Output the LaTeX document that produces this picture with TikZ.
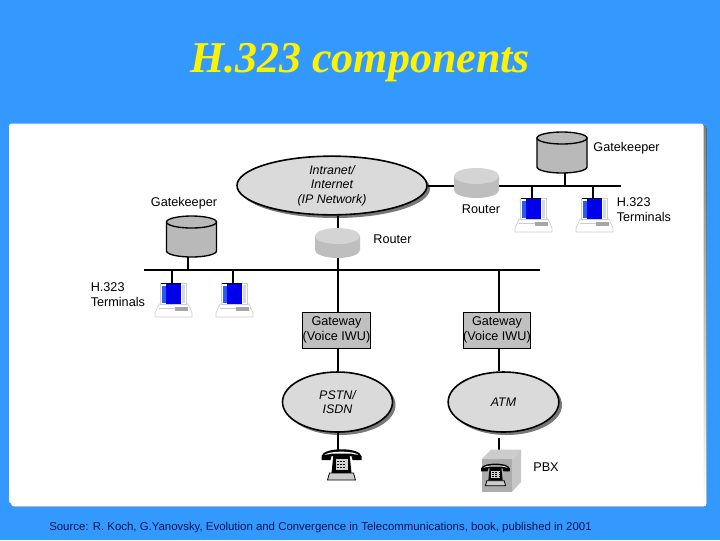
\documentclass[tikz,border=0pt]{standalone}
\usepackage{fontspec}
\setmainfont{Liberation Sans}
\newfontfamily\titlefont{Liberation Serif}
\usetikzlibrary{shapes.geometric}
\definecolor{bgblue}{RGB}{51,153,255}
\definecolor{shade}{RGB}{25,50,85}
\definecolor{cylgray}{RGB}{185,185,185}
\definecolor{rttop}{RGB}{212,212,212}
\definecolor{rtside}{RGB}{190,190,190}
\definecolor{ellgray}{RGB}{218,218,218}
\definecolor{ellshadow}{RGB}{120,120,120}
\definecolor{gwgray}{RGB}{192,192,192}
\definecolor{termblue}{RGB}{0,0,235}
\definecolor{termlight}{RGB}{40,90,250}
\definecolor{srcnavy}{RGB}{10,20,80}
\tikzset{
  wire/.style={line width=1.5pt,black},
  lbl/.style={font=\fontsize{9.5}{11}\selectfont,align=center,inner sep=0pt},
  lblleft/.style={font=\fontsize{9.5}{11}\selectfont,align=left,inner sep=0pt},
  cloudnet/.style={ellipse,draw=black,line width=1.2pt,fill=ellgray,inner sep=-3pt,font=\fontsize{9.3}{10.9}\selectfont\itshape,align=center},
  gwbox/.style={rectangle,draw=black,line width=0.7pt,fill=gwgray,minimum width=48.5pt,minimum height=27pt,inner sep=0pt,font=\fontsize{9.5}{11}\selectfont,align=center},
  port/.style={inner sep=0pt,minimum size=0pt},
}
\newcommand{\gkcyl}[4]{%
  \draw[line width=1pt,fill=cylgray] (#1-25,#2) -- (#1-25,#2+29) arc[start angle=180,end angle=0,x radius=25,y radius=6] -- (#1+25,#2) -- cycle;
  \draw[line width=1pt,fill=cylgray] (#1,#2) ellipse[x radius=25,y radius=6];
  \node[port] (#3) at (#1+#4,#2+35) {};
}
\newcommand{\rtcyl}[3]{%
  \fill[rtside] (#1-22.5,#2) -- (#1-22.5,#2+14) arc[start angle=180,end angle=0,x radius=22.5,y radius=8] -- (#1+22.5,#2) -- cycle;
  \fill[rttop] (#1,#2) ellipse[x radius=22.5,y radius=8];
  \node[port] (#3) at (#1,#2+22) {};
  \node[port] (#3t) at (#1,#2-8) {};
}
\newcommand{\term}[3]{%
  \draw[gray!40,fill=white,line width=0.5pt] (#1-17,#2+30) -- (#1-13,#2+21) -- (#1+16,#2+21) -- (#1+20,#2+30) -- (#1+20,#2+34) -- (#1-17,#2+34) -- cycle;
  \draw[gray!40,line width=0.5pt] (#1-13,#2+25) -- (#1+3,#2+25);
  \fill[gray!70] (#1+3,#2+24) rectangle (#1+16,#2+28);
  \draw[gray!40,fill=white,line width=0.5pt] (#1-12,#2) rectangle (#1+14,#2+21);
  \fill[termlight] (#1-10,#2+3) rectangle (#1-5,#2+20);
  \fill[gray!30] (#1+10,#2+2) rectangle (#1+13,#2+20);
  \fill[termblue] (#1-6,#2) rectangle (#1+9,#2+21);
  \draw[line width=0.6pt] (#1-11,#2) -- (#1+9,#2);
  \node[port] (#3) at (#1,#2) {};
}
\newcommand{\phonedraw}[3]{%
  \begin{scope}[shift={(#1,#2)},scale=#3]
    \fill[black] (-20,-5) .. controls (-18,-14) and (18,-14) .. (20,-5) -- (20,-1) -- (11,-1) -- (10,-5) -- (-10,-5) -- (-11,-1) -- (-20,-1) -- cycle;
    \fill[white] (-17,-6) .. controls (-13,-10.5) and (13,-10.5) .. (17,-6) -- (9,-7.5) -- (-9,-7.5) -- cycle;
    \fill[black] (-8,-7) -- (8,-7) -- (10,12) -- (-10,12) -- cycle;
    \fill[gray!40] (-12,12) -- (12,12) -- (14,19) -- (-14,19) -- cycle;
    \draw[black,line width=0.6pt] (-12,12) -- (12,12) -- (14,19) -- (-14,19) -- cycle;
    \fill[gray!35] (-6,-2) rectangle (6,9);
    \foreach \yy in {0,3,6}{\draw[black,line width=0.5pt,dash pattern=on 1.5pt off 1pt] (-5,\yy) -- (5,\yy);}
  \end{scope}
}
\begin{document}
\begin{tikzpicture}[x=0.75pt,y=-0.75pt]
\useasboundingbox (0,0) rectangle (720,540);
\fill[bgblue] (0,0) rectangle (720,540);
% panel
\fill[shade,rounded corners=2pt] (11,126) rectangle (706.5,506.5);
\fill[white,rounded corners=2pt] (9,123.5) rectangle (703.5,503.5);
% title
\node[inner sep=0pt,text=yellow,font=\titlefont\itshape\bfseries\fontsize{33}{36}\selectfont] (title) at (360,62.5) {H.323 components};

% nets
\fill[ellshadow] (335,188.5) ellipse[x radius=95,y radius=29.5];
\node[cloudnet,minimum width=142.5pt,minimum height=44pt] (inet) at (332,185.5) {Intranet/\\Internet\\(IP Network)};
\fill[ellshadow] (340.5,405) ellipse[x radius=55,y radius=30];
\node[cloudnet,minimum width=82.5pt,minimum height=45pt] (pstn) at (337.5,402) {PSTN/\\ISDN};
\fill[ellshadow] (506.5,405) ellipse[x radius=55.5,y radius=30];
\node[cloudnet,minimum width=83pt,minimum height=45pt] (atm) at (503.5,402) {ATM};

% gateways
\node[gwbox] (gw1) at (336.5,330) {Gateway\\(Voice IWU)};
\node[gwbox] (gw2) at (497,330) {Gateway\\(Voice IWU)};

% buses
\coordinate (ubusend) at (621,186);
\coordinate (lbusstart) at (144,270);
\coordinate (lbusend) at (540,270);
\draw[wire] (inet.east |- ubusend) -- (ubusend);
\draw[wire] (lbusstart) -- (lbusend);

% cylinders and routers
\gkcyl{191.5}{222}{gk1}{-3.5}
\gkcyl{562}{138}{gk2}{3}
\draw[wire] (gk1) -- (gk1 |- lbusend) ;
\draw[wire] (gk2) -- (gk2 |- ubusend);
\rtcyl{476.5}{176}{rone}
\rtcyl{337.5}{236}{rtwo}
\coordinate (gwdrop) at (499,270);
\draw[wire] (rtwot) -- (rtwot |- inet.south);
\draw[wire] (rtwo) -- (rtwo |- gw1.north);
\draw[wire] (gwdrop) -- (gwdrop |- gw2.north);
\draw[wire] (rtwo |- gw1.south) -- (rtwo |- pstn.north);
\draw[wire] (gwdrop |- gw2.south) -- (gwdrop |- atm.north);

% terminals
\term{172}{283}{t1}
\term{233}{283}{t2}
\term{532}{198}{t3}
\term{593}{198}{t4}
\draw[wire] (t1) -- (t1 |- lbusend);
\draw[wire] (t2) -- (t2 |- lbusend);
\draw[wire] (t3) -- (t3 |- ubusend);
\draw[wire] (t4) -- (t4 |- ubusend);

% phones
\coordinate (ph1) at (337.5,451);
\draw[wire] (pstn.south) -- (ph1);
\phonedraw{341.5}{461}{1}
\coordinate (pbxtop) at (499,450);
\draw[wire] (499,438) -- (pbxtop);
\fill[gray!40] (482,459) -- (491,449.5) -- (521,449.5) -- (512,459) -- cycle;
\fill[gray!45] (512,459) -- (521,449.5) -- (521,482) -- (512,492) -- cycle;
\fill[gray!65] (482,459) rectangle (512,492);
\phonedraw{495.5}{472}{0.72}

% labels
\node[lbl] (lgk2) at (626.5,148) {Gatekeeper};
\node[lbl] (lgk1) at (184,203) {Gatekeeper};
\node[lbl] (lr1) at (481,209) {Router};
\node[lbl] (lr2) at (392.5,239) {Router};
\node[lblleft,anchor=west] (lt1) at (616.5,209.5) {H.323\\Terminals};
\node[lblleft,anchor=west] (lt2) at (90.5,294.5) {H.323\\Terminals};
\node[lbl] (lpbx) at (546,467) {PBX};
\node[inner sep=0pt,anchor=west,text=srcnavy,font=\fontsize{8.56}{10}\selectfont] (src) at (49,528) {Source: R. Koch, G.Yanovsky, Evolution and Convergence in Telecommunications, book, published in 2001};
\end{tikzpicture}
\end{document}
